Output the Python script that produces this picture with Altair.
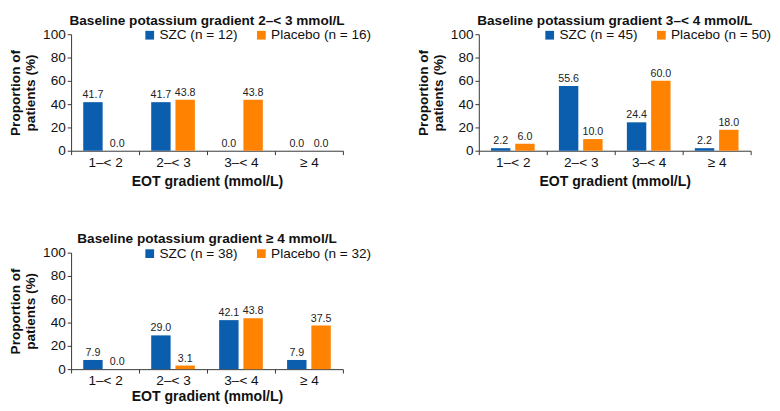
import altair as alt
import pandas as pd

categories = ["1–< 2", "2–< 3", "3–< 4", "≥ 4"]

titles = [
    "Baseline potassium gradient 2–< 3 mmol/L",
    "Baseline potassium gradient 3–< 4 mmol/L",
    "Baseline potassium gradient ≥ 4 mmol/L",
]
n_szc = [12, 45, 38]
n_placebo = [16, 50, 32]

szc_values = [
    [41.7, 41.7, 0.0, 0.0],
    [2.2, 55.6, 24.4, 2.2],
    [7.9, 29.0, 42.1, 7.9],
]
placebo_values = [
    [0.0, 43.8, 43.8, 0.0],
    [6.0, 10.0, 60.0, 18.0],
    [0.0, 3.1, 43.8, 37.5],
]

BLUE = "#0B5EAE"
ORANGE = "#FF8200"
FONT = "Liberation Sans"


def panel(i, legend_x, xtitle_pad):
    s_lab = f"SZC (n = {n_szc[i]})"
    p_lab = f"Placebo (n = {n_placebo[i]})"
    rows = []
    for c, v in zip(categories, szc_values[i]):
        rows.append({"cat": c, "series": s_lab, "value": v})
    for c, v in zip(categories, placebo_values[i]):
        rows.append({"cat": c, "series": p_lab, "value": v})
    df = pd.DataFrame(rows)
    dom = [s_lab, p_lab]

    x = alt.X(
        "cat:N",
        sort=categories,
        scale=alt.Scale(domain=categories, paddingInner=0, paddingOuter=0),
        axis=alt.Axis(
            title="EOT gradient (mmol/L)",
            labelAngle=0,
            tickBand="extent",
            tickSize=4,
            labelPadding=1,
            titlePadding=xtitle_pad,
            labelFontSize=14,
            titleFontSize=14.5,
        ),
    )
    y = alt.Y(
        "value:Q",
        scale=alt.Scale(domain=[0, 100], nice=False),
        axis=alt.Axis(
            title=["Proportion of", "patients (%)"],
            values=[0, 20, 40, 60, 80, 100],
            tickSize=4,
            labelPadding=2,
            titlePadding=5,
            titleLineHeight=16,
            labelFontSize=14,
            titleFontSize=14,
        ),
    )
    xo = alt.XOffset(
        "series:N",
        sort=dom,
        scale=alt.Scale(domain=dom, paddingInner=0.2, paddingOuter=0.5),
    )
    base = alt.Chart(df).encode(x=x, y=y, xOffset=xo)
    bars = base.mark_bar().encode(
        color=alt.Color(
            "series:N",
            sort=dom,
            scale=alt.Scale(domain=dom, range=[BLUE, ORANGE]),
            legend=alt.Legend(
                title=None,
                orient="none",
                legendX=legend_x,
                legendY=-6,
                direction="horizontal",
                symbolType="square",
                symbolSize=81,
                symbolStrokeWidth=0,
                labelFontSize=14,
                labelFont=FONT,
                labelColor="#111",
                labelOffset=3,
                columnPadding=17,
                padding=0,
            ),
        )
    )
    text = base.mark_text(
        baseline="bottom", dy=-2, fontSize=11, font=FONT, color="#222"
    ).encode(text=alt.Text("value:Q", format=".1f"))
    return alt.layer(bars, text).properties(
        width=280,
        height=120,
        title=alt.TitleParams(
            titles[i],
            fontSize=14,
            fontWeight="bold",
            font=FONT,
            color="#111",
            anchor="middle",
            frame="group",
            offset=0,
        ),
    )


top = alt.hconcat(panel(0, 74, 6), panel(1, 66, 6), spacing=45).resolve_scale(
    color="independent", xOffset="independent"
).resolve_legend(color="independent")
chart = (
    alt.vconcat(top, panel(2, 74, 2), spacing=45)
    .resolve_scale(color="independent", xOffset="independent")
    .resolve_legend(color="independent")
    .properties(padding=0)
    .configure_view(stroke=None)
    .configure_axis(
        grid=False,
        labelFont=FONT,
        titleFont=FONT,
        titleFontWeight="bold",
        labelColor="#111",
        titleColor="#111",
        domainColor="#333",
        tickColor="#333",
    )
)

chart.save("out.html", embed_options={"renderer": "svg", "actions": False})
